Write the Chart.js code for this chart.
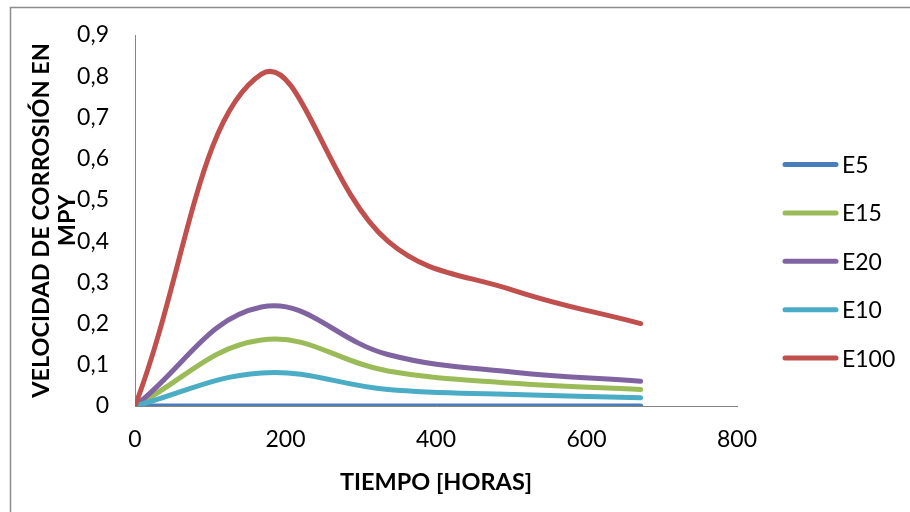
<!DOCTYPE html>
<html>
<head>
<meta charset="utf-8">
<script src="https://cdn.jsdelivr.net/npm/chart.js@4/dist/chart.umd.min.js"></script>
<style>
  html, body { margin: 0; padding: 0; background: #fff; }
  #box { width: 910px; height: 512px; }
</style>
</head>
<body>
<div id="box"><canvas id="grafico"></canvas></div>
<script>
// horas de ensayo
const horas = [0, 168, 336, 504, 672];

const series = ['E5', 'E15', 'E20', 'E10', 'E100'];
const e5 = [0, 0, 0, 0, 0];
const e15 = [0, 0.16, 0.085, 0.055, 0.04];
const e20 = [0, 0.24, 0.125, 0.082, 0.06];
const e10 = [0, 0.08, 0.04, 0.028, 0.02];
const e100 = [0, 0.805, 0.40, 0.28, 0.20];

const ticksX = [0, 200, 400, 600, 800];
const ticksY = [0, 0.1, 0.2, 0.3, 0.4, 0.5, 0.6, 0.7, 0.8, 0.9];

const colores = ['#4A7EBB', '#9BBB59', '#8064A2', '#4BACC6', '#C0504D'];
const valores = [e5, e15, e20, e10, e100];

const fuente = 'Lato, "Open Sans", sans-serif';

function puntos(vals) {
    return horas.map((h, i) => ({ x: h, y: vals[i] }));
}

const datasets = series.map((nombre, i) => ({
    label: nombre,
    data: puntos(valores[i]),
    borderColor: colores[i],
    backgroundColor: colores[i],
    borderWidth: 5,
    borderCapStyle: 'round',
    borderJoinStyle: 'round',
    pointRadius: 0,
    showLine: true,
    tension: 0.4,
    order: series.length - i   // la ultima serie queda encima, como en Excel
}));

// marco gris y leyenda a la derecha
const marco = {
    id: 'marco',
    beforeDraw(chart) {
        const c = chart.ctx;
        c.save();
        c.strokeStyle = '#8c8c8c';
        c.lineWidth = 1.5;
        c.strokeRect(10.5, 7.5, 1000, 1000);
        c.restore();
    },
    afterDraw(chart) {
        const c = chart.ctx;
        c.save();
        c.font = '23px ' + fuente;
        c.textBaseline = 'middle';
        chart.data.datasets.forEach((ds, i) => {
            const y = 164.5 + i * 48.4;
            c.strokeStyle = ds.borderColor;
            c.lineWidth = 5;
            c.lineCap = 'round';
            c.beginPath();
            c.moveTo(785, y);
            c.lineTo(836, y);
            c.stroke();
            c.fillStyle = '#000';
            c.fillText(ds.label, 842, y + 1);
        });
        c.restore();
    }
};

new Chart(document.getElementById('grafico'), {
    type: 'scatter',
    data: { datasets: datasets },
    options: {
        responsive: true,
        maintainAspectRatio: false,
        animation: false,
        layout: {
            padding: { left: 10, right: 173, top: 35, bottom: 0 }
        },
        plugins: {
            legend: { display: false },
            tooltip: { enabled: false }
        },
        scales: {
            x: {
                type: 'linear',
                min: 0,
                max: 800,
                afterBuildTicks(scale) {
                    scale.ticks = ticksX.map(v => ({ value: v }));
                },
                afterFit(scale) { scale.height = 106; },
                grid: { display: false, drawTicks: false },
                border: { display: true, color: '#868686', width: 1 },
                ticks: {
                    padding: 20,
                    color: '#000',
                    font: { family: fuente, size: 23 }
                },
                title: {
                    display: true,
                    text: 'TIEMPO [HORAS]',
                    color: '#000',
                    padding: { top: 0, bottom: 15 },
                    font: { family: fuente, size: 23.5, weight: 'bold' }
                }
            },
            y: {
                type: 'linear',
                min: 0,
                max: 0.9,
                afterBuildTicks(scale) {
                    scale.ticks = ticksY.map(v => ({ value: v }));
                },
                afterFit(scale) {
                    scale.width = 125;
                    // el padding de las etiquetas no debe empujar el area
                    scale.paddingTop = 0;
                    scale.paddingBottom = 0;
                },
                grid: { display: false, drawTicks: false },
                border: { display: true, color: '#868686', width: 1 },
                ticks: {
                    padding: 26,
                    color: '#000',
                    font: { family: fuente, size: 23 },
                    callback: v => v === 0 ? '0' : v.toFixed(1).replace('.', ',')
                },
                title: {
                    display: true,
                    text: ['VELOCIDAD DE CORROSIÓN EN', 'MPY'],
                    color: '#000',
                    padding: { top: 19, bottom: 0 },
                    font: { family: fuente, size: 23.5, weight: 'bold', lineHeight: 1.08 }
                }
            }
        }
    },
    plugins: [marco]
});
</script>
</body>
</html>
